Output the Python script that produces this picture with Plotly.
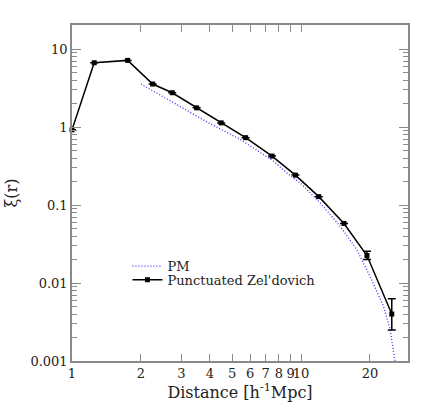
import plotly.graph_objects as go

# Punctuated Zel'dovich measurements
pz_r = [1.0, 1.25, 1.75, 2.25, 2.74, 3.5, 4.48, 5.73, 7.47, 9.45, 11.95, 15.4, 19.4, 24.9]
pz_xi = [0.92, 6.67, 7.15, 3.56, 2.75, 1.76, 1.13, 0.73, 0.424, 0.242, 0.128, 0.058, 0.0225, 0.0040]
pz_err_hi = [None] * 12 + [0.0031, 0.0023]
pz_err_lo = [None] * 12 + [0.0025, 0.0015]

# PM curve
pm_r = [2.0, 3.0, 4.0, 5.42, 6.4, 7.57, 8.7, 10.07, 12.1, 14.8, 17.5, 20.0, 22.9, 24.5, 25.7]
pm_xi = [3.56, 1.80, 1.107, 0.695, 0.50, 0.366, 0.256, 0.184, 0.107, 0.0535, 0.0269, 0.0122,
         0.00504, 0.00253, 0.001]

x_ticks = [1, 2, 3, 4, 5, 6, 7, 8, 9, 10, 20]
y_ticks = [0.001, 0.01, 0.1, 1, 10]
y_minor = [m * 10 ** e for e in range(-3, 2) for m in range(2, 10)]

FONT = "DejaVu Serif"
GREY = "#8a8a8a"

fig = go.Figure()

fig.add_trace(go.Scatter(
    x=pm_r, y=pm_xi, name="PM", mode="lines", legend="legend",
    line=dict(color="#3030ff", dash="1px,2px", width=1.3),
))

fig.add_trace(go.Scatter(
    x=pz_r, y=pz_xi, name="Punctuated Zel'dovich", mode="lines+markers", legend="legend2",
    line=dict(color="black", width=1.5), cliponaxis=False,
    marker=dict(symbol="square", size=5, color="black"),
    error_y=dict(type="data", symmetric=False, array=pz_err_hi, arrayminus=pz_err_lo,
                 color="black", thickness=1.5, width=4),
))

# invisible trace to carry minor-tick / top-tick axes
fig.add_trace(go.Scatter(x=[1], y=[1], xaxis="x2", yaxis="y2", mode="markers",
                         marker=dict(opacity=0), showlegend=False, hoverinfo="skip"))

xrange = [0, 1.467]
yrange = [-3, 1.308]

legend_style = dict(xanchor="left", yanchor="top", bgcolor="rgba(0,0,0,0)",
                    font=dict(size=13), itemwidth=30)

fig.update_layout(
    width=433, height=410,
    margin=dict(l=72, r=25, t=25, b=49, autoexpand=False),
    paper_bgcolor="white", plot_bgcolor="white",
    font=dict(family=FONT, size=13, color="#222"),
    showlegend=True,
    legend=dict(x=0.165, y=0.327, **legend_style),
    legend2=dict(x=0.165, y=0.286, **legend_style),
    xaxis=dict(type="log", range=xrange, tickvals=x_ticks, ticktext=[str(v) for v in x_ticks],
               tickangle=0, ticks="inside", ticklen=7, tickcolor=GREY, showline=True,
               linecolor=GREY, linewidth=1.5, mirror=True, showgrid=False, zeroline=False,
               automargin=False,
               title=dict(text="Distance [h<sup>-1</sup>Mpc]", standoff=2)),
    yaxis=dict(type="log", range=yrange, tickvals=y_ticks, ticktext=["0.001", "0.01", "0.1", "1", "10"],
               ticks="inside", ticklen=9, tickcolor=GREY, showline=True, linecolor=GREY,
               linewidth=1.5, mirror="ticks", showgrid=False, zeroline=False, automargin=False,
               title=dict(text="ξ(r)", standoff=9)),
    xaxis2=dict(type="log", range=xrange, overlaying="x", side="top", automargin=False,
                tickvals=x_ticks[1:10], showticklabels=False, ticks="inside", ticklen=7,
                tickcolor=GREY, showgrid=False, zeroline=False, showline=False),
    yaxis2=dict(type="log", range=yrange, overlaying="y", side="left", automargin=False,
                tickvals=y_minor, showticklabels=False, ticks="inside", ticklen=5,
                tickcolor=GREY, mirror="ticks", showgrid=False, zeroline=False, showline=False),
)

# drop the default page margin so the figure sits at the window's corner
fig.write_html("out.html", config={"displayModeBar": False},
               post_script="document.body.style.margin='0';")
